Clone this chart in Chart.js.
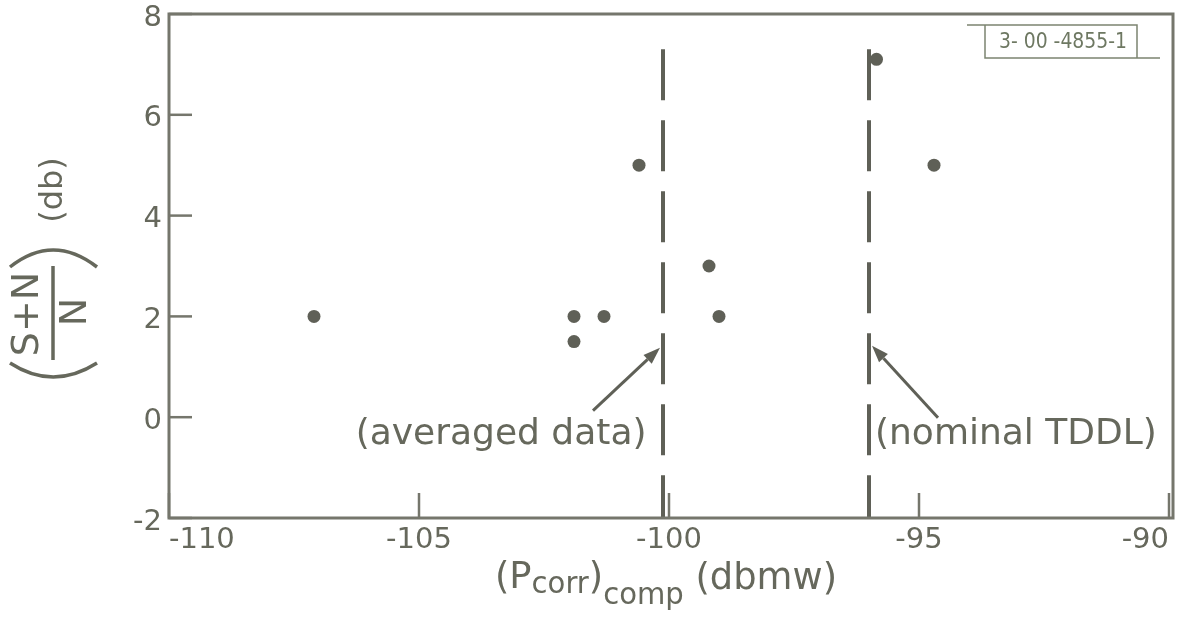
<!DOCTYPE html>
<html>
<head>
<meta charset="utf-8">
<script src="https://cdn.jsdelivr.net/npm/chart.js@4.4.0/dist/chart.umd.min.js"></script>
<style>
  html, body { margin: 0; padding: 0; background: #fff; }
  #wrap { width: 1178px; height: 626px; }
</style>
</head>
<body>
<div id="wrap"><canvas id="plot" width="1178" height="626"></canvas></div>
<script>
// measured points: compensated correlator power vs (S+N)/N
const powerDbmw = [-107.1, -101.9, -101.9, -101.3, -100.6, -99.2, -99.0, -95.85, -94.7];
const snrDb = [2.0, 2.0, 1.5, 2.0, 5.0, 3.0, 2.0, 7.1, 5.0];

// reference levels drawn as dashed verticals
const averagedLevel = -100.12;
const nominalTddl = -96.0;
const levelTop = 7.3;

const xTicks = [-110, -105, -100, -95, -90];
const yTicks = [-2, 0, 2, 4, 6, 8];

const noteTexts = ["(averaged data)", "(nominal TDDL)"];
const noteX = [-100.45, -95.88];
const noteY = [-0.35, -0.35];
const arrowFrom = [[-101.52, 0.13], [-94.62, -0.01]];
const arrowTo = [[-100.18, 1.38], [-95.94, 1.42]];

const ink = "#5f6057";
const axisInk = "#75766c";
const textInk = "#66685c";
const FONT = "'DejaVu Sans', sans-serif";

const $ = (id) => document.getElementById(id);

function vline(x) {
  return [{ x, y: levelTop }, { x, y: -2 }];
}

function drawArrow(ctx, x0, y0, x1, y1) {
  const ang = Math.atan2(y1 - y0, x1 - x0);
  const head = 17, half = 6;
  const bx = x1 - head * Math.cos(ang), by = y1 - head * Math.sin(ang);
  ctx.beginPath();
  ctx.moveTo(x0, y0);
  ctx.lineTo(bx, by);
  ctx.stroke();
  ctx.beginPath();
  ctx.moveTo(x1, y1);
  ctx.lineTo(bx + half * Math.sin(ang), by - half * Math.cos(ang));
  ctx.lineTo(bx - half * Math.sin(ang), by + half * Math.cos(ang));
  ctx.closePath();
  ctx.fill();
}

// frame, inward ticks, notes, axis titles and the drawing number stamp
const decorations = {
  id: "decorations",
  afterDraw(chart) {
    const { ctx, chartArea: a, scales } = chart;
    const sx = scales.x, sy = scales.y;
    ctx.save();
    ctx.strokeStyle = axisInk;
    ctx.lineWidth = 3;
    ctx.strokeRect(a.left, a.top, a.right - a.left + 4, a.bottom - a.top);

    ctx.lineWidth = 2.5;
    yTicks.forEach((v) => {
      const y = sy.getPixelForValue(v);
      ctx.beginPath();
      ctx.moveTo(a.left, y);
      ctx.lineTo(a.left + 23, y);
      ctx.stroke();
    });
    xTicks.forEach((v) => {
      const x = sx.getPixelForValue(v);
      ctx.beginPath();
      ctx.moveTo(x, a.bottom);
      ctx.lineTo(x, a.bottom - 25);
      ctx.stroke();
    });

    // annotations
    ctx.fillStyle = textInk;
    ctx.font = `36px ${FONT}`;
    ctx.textBaseline = "middle";
    noteTexts.forEach((t, i) => {
      ctx.textAlign = i === 0 ? "right" : "left";
      ctx.fillText(t, sx.getPixelForValue(noteX[i]), sy.getPixelForValue(noteY[i]));
    });
    ctx.strokeStyle = ink;
    ctx.fillStyle = ink;
    ctx.lineWidth = 3;
    arrowFrom.forEach((f, i) => {
      drawArrow(ctx,
        sx.getPixelForValue(f[0]), sy.getPixelForValue(f[1]),
        sx.getPixelForValue(arrowTo[i][0]), sy.getPixelForValue(arrowTo[i][1]));
    });

    // x title: (P_corr)_comp (dbmw)
    const parts = [
      ["(P", 38, 0], ["corr", 30, 5], [")", 38, 0], ["comp", 30, 16], [" (dbmw)", 38, 1]
    ];
    let w = 0;
    parts.forEach((p) => { ctx.font = `${p[1]}px ${FONT}`; w += ctx.measureText(p[0]).width; });
    const k = 342 / w;
    ctx.fillStyle = textInk;
    ctx.textAlign = "left";
    ctx.textBaseline = "alphabetic";
    ctx.save();
    ctx.translate(495, 0);
    ctx.scale(k, 1);
    let cx = 0;
    parts.forEach((p) => {
      ctx.font = `${p[1]}px ${FONT}`;
      ctx.fillText(p[0], cx, 588 + p[2]);
      cx += ctx.measureText(p[0]).width;
    });
    ctx.restore();

    // y title: ((S+N)/N) (db), rotated
    ctx.textAlign = "center";
    ctx.textBaseline = "middle";
    const rot = (txt, x, y, size) => {
      ctx.save();
      ctx.translate(x, y);
      ctx.rotate(-Math.PI / 2);
      ctx.font = `${size}px ${FONT}`;
      ctx.fillText(txt, 0, 0);
      ctx.restore();
    };
    rot("S+N", 28, 314, 38);
    rot("N", 76, 312, 38);
    rot("(db)", 54, 190, 32);
    ctx.strokeStyle = textInk;
    ctx.lineWidth = 3.5;
    ctx.beginPath();
    ctx.moveTo(53, 266);
    ctx.lineTo(53, 360);
    ctx.stroke();
    ctx.beginPath();
    ctx.moveTo(10, 267);
    ctx.quadraticCurveTo(53, 233, 97, 267);
    ctx.stroke();
    ctx.beginPath();
    ctx.moveTo(10, 363);
    ctx.quadraticCurveTo(53, 391, 97, 363);
    ctx.stroke();

    // stamp
    ctx.strokeStyle = "#7c8470";
    ctx.lineWidth = 1.5;
    ctx.beginPath();
    ctx.moveTo(967, 25); ctx.lineTo(1137, 25); ctx.lineTo(1137, 58);
    ctx.moveTo(985, 25); ctx.lineTo(985, 58); ctx.lineTo(1160, 58);
    ctx.stroke();
    ctx.fillStyle = "#6e7862";
    ctx.font = `22px ${FONT}`;
    const stamp = "3- 00 -4855-1";
    const sw = ctx.measureText(stamp).width;
    ctx.save();
    ctx.translate(1063, 42);
    ctx.scale(128 / sw, 1);
    ctx.fillText(stamp, 0, 0);
    ctx.restore();
    ctx.restore();
  }
};

new Chart($("plot"), {
  type: "scatter",
  data: {
    datasets: [
      {
        data: powerDbmw.map((x, i) => ({ x, y: snrDb[i] })),
        pointRadius: 6.5,
        pointBackgroundColor: ink,
        pointBorderWidth: 0
      },
      {
        type: "line",
        data: vline(averagedLevel),
        borderColor: ink,
        borderWidth: 4,
        borderDash: [51, 20],
        pointRadius: 0
      },
      {
        type: "line",
        data: vline(nominalTddl),
        borderColor: ink,
        borderWidth: 4,
        borderDash: [51, 20],
        pointRadius: 0
      }
    ]
  },
  options: {
    responsive: false,
    animation: false,
    layout: { padding: { left: 0, top: 14, right: 9, bottom: 0 } },
    plugins: { legend: { display: false }, tooltip: { enabled: false } },
    scales: {
      x: {
        type: "linear",
        min: -110,
        max: -90,
        afterBuildTicks: (s) => { s.ticks = xTicks.map((v) => ({ value: v })); },
        afterFit: (s) => { s.height = 108; s.paddingLeft = 0; s.paddingRight = 0; },
        grid: { display: false, drawTicks: false },
        border: { display: false },
        ticks: { align: "inner", padding: 5, color: textInk, font: { family: FONT, size: 29 } }
      },
      y: {
        type: "linear",
        min: -2,
        max: 8,
        afterBuildTicks: (s) => { s.ticks = yTicks.map((v) => ({ value: v })); },
        afterFit: (s) => { s.width = 169; s.paddingTop = 0; s.paddingBottom = 0; },
        grid: { display: false, drawTicks: false },
        border: { display: false },
        ticks: { padding: 7, labelOffset: 4, color: textInk, font: { family: FONT, size: 29 } }
      }
    }
  },
  plugins: [decorations]
});
</script>
</body>
</html>
